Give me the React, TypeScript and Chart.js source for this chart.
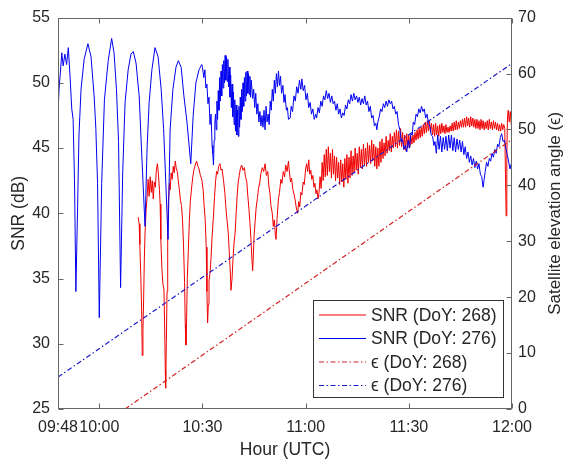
import React, { useEffect, useRef } from 'react';
import { Chart, registerables } from 'chart.js';

Chart.register(...registerables);

// x values are minutes after 00:00 UTC
const xTickValues = [588, 600, 630, 660, 690, 720];
const xTickLabels = ['09:48', '10:00', '10:30', '11:00', '11:30', '12:00'];
const snrTicks = [25, 30, 35, 40, 45, 50, 55];
const elevTicks = [0, 10, 20, 30, 40, 50, 60, 70];

const legendLabels = ['SNR (DoY: 268)', 'SNR (DoY: 276)', 'ϵ (DoY: 268)', 'ϵ (DoY: 276)'];

// Elevation angle (deg) vs time
const elev268: [number, number][] = [[607.5, 0], [720, 48.2]];
const elev276: [number, number][] = [[588, 5.7], [720, 61.8]];

// SNR (dB), DoY 276 (blue)
const snr276: [number, number][] = [
  [588.0, 47.6], [588.3, 49.5], [588.6, 50.5], [589.1, 52.3], [589.5, 51.3], [590.0, 52.2], [590.5, 51.4],
  [591.0, 52.7], [591.5, 50.5], [592.0, 48.0], [592.4, 47.2], [592.8, 42.5], [593.2, 34.0], [593.7, 40.5],
  [594.1, 46.0], [594.7, 49.5], [595.6, 51.8], [596.7, 53.0], [597.6, 52.0], [598.5, 49.0], [599.0, 46.5],
  [599.5, 42.3], [600.0, 32.0], [600.7, 42.3], [601.5, 48.7], [602.6, 51.7], [603.6, 53.4], [604.3, 52.3],
  [605.0, 49.5], [605.6, 45.5], [606.2, 34.3], [606.8, 43.0], [607.5, 48.5], [608.4, 51.0], [609.2, 52.2],
  [609.9, 52.4], [610.7, 51.5], [611.6, 49.0], [612.1, 46.0], [612.7, 42.5], [613.3, 39.0], [613.9, 45.0],
  [614.5, 48.5], [615.3, 51.0], [616.2, 52.7], [617.1, 52.0], [618.0, 49.5], [618.7, 46.5], [619.4, 42.0],
  [620.0, 38.0], [620.6, 46.4], [621.4, 49.5], [622.3, 51.2], [623.0, 51.7], [623.8, 51.2], [624.6, 49.0],
  [625.5, 47.0], [626.6, 43.8], [627.3, 47.5], [628.1, 50.0], [629.0, 51.0], [629.8, 51.4],
  [630.0, 51.2], [630.4, 50.4], [630.7, 51.0], [631.0, 49.6], [631.3, 49.9], [631.6, 48.4], [631.9, 48.9],
  [632.2, 46.8], [632.5, 47.6], [632.8, 45.2], [633.0, 44.6], [633.2, 43.7], [633.4, 45.6], [633.6, 46.9],
  [633.8, 47.6], [634.0, 46.4], [634.2, 48.6], [634.4, 47.2], [634.6, 49.4], [634.8, 47.9], [635.0, 50.4],
  [635.2, 48.6], [635.4, 50.9], [635.6, 49.0], [635.8, 51.4], [636.0, 49.6], [636.2, 51.7], [636.4, 50.0],
  [636.6, 52.1], [636.8, 50.2], [637.0, 52.0], [637.2, 50.1], [637.4, 51.8], [637.6, 49.7], [637.8, 51.2],
  [638.0, 48.9], [638.2, 50.6], [638.4, 48.1], [638.6, 49.9], [638.8, 47.4], [639.0, 49.3], [639.2, 46.8],
  [639.4, 48.7], [639.6, 46.3], [639.8, 48.3], [640.0, 46.0], [640.2, 47.9], [640.4, 45.9], [640.6, 48.2],
  [640.8, 46.6], [641.0, 48.9], [641.2, 47.2], [641.4, 49.5], [641.6, 47.8], [641.8, 50.0], [642.0, 48.2],
  [642.2, 50.4], [642.4, 48.6], [642.6, 50.8], [642.8, 49.0], [643.0, 50.9], [643.2, 49.2], [643.4, 50.7],
  [643.6, 49.1], [643.8, 50.5], [644.0, 48.9], [644.2, 50.2], [644.6, 48.8], [644.9, 49.5], [645.2, 48.1],
  [645.5, 49.2], [645.8, 47.6], [646.1, 48.4], [646.4, 47.0], [646.7, 47.8], [647.0, 46.7], [647.3, 47.5],
  [647.6, 46.6], [647.9, 47.9], [648.2, 46.4], [648.5, 48.2], [648.8, 47.0], [649.1, 47.6], [649.4, 46.8],
  [649.7, 48.6], [650.0, 47.9], [650.3, 49.5], [650.6, 48.6], [650.9, 50.2], [651.2, 49.2], [651.5, 50.7],
  [651.8, 49.7], [652.1, 50.9], [652.4, 49.8], [652.7, 50.5], [653.0, 49.2], [653.4, 49.8], [653.7, 48.5],
  [654.0, 49.1], [654.4, 47.9], [654.7, 48.1], [655.0, 47.2], [655.5, 47.3], [655.8, 48.2], [656.2, 47.8],
  [656.6, 49.0], [657.0, 48.6], [657.4, 49.7], [657.8, 49.2], [658.2, 50.2], [658.6, 49.5], [658.9, 50.3],
  [659.3, 49.4], [659.7, 49.8], [660.1, 48.7], [660.5, 49.2], [660.9, 48.1], [661.3, 48.5], [661.7, 47.6],
  [662.1, 48.0], [662.5, 47.2], [662.9, 47.6], [663.2, 47.3], [663.6, 48.1], [664.0, 47.7], [664.4, 48.6],
  [664.8, 48.2], [665.2, 49.0], [665.6, 48.7], [666.0, 49.4], [666.4, 48.8], [666.8, 49.2], [667.2, 48.5],
  [667.6, 49.0], [668.0, 48.4], [668.4, 48.6], [668.8, 47.9], [669.2, 48.4], [669.6, 47.6], [670.0, 48.0],
  [670.4, 47.3], [670.8, 47.7], [671.2, 47.5], [671.6, 48.3], [672.0, 48.0], [672.4, 48.7], [672.8, 48.4],
  [673.2, 49.1], [673.6, 48.6], [674.0, 49.2], [674.4, 48.7], [674.8, 49.0], [675.2, 48.5], [675.6, 48.9],
  [676.0, 48.3], [676.4, 48.8], [676.8, 48.4], [677.2, 49.0], [677.6, 48.3], [678.0, 48.6], [678.4, 47.8],
  [678.8, 48.2], [679.2, 47.3], [679.6, 47.5], [680.0, 46.7], [680.4, 46.9], [680.7, 46.4], [681.0, 47.0],
  [681.4, 47.4], [681.8, 48.0], [682.2, 47.8], [682.6, 48.4], [683.0, 48.1], [683.4, 48.6], [683.8, 48.2],
  [684.2, 48.7], [684.6, 48.4], [685.0, 48.6], [685.4, 48.0], [685.8, 48.2], [686.2, 47.6], [686.6, 47.8],
  [687.0, 46.8], [687.4, 46.4], [687.8, 45.5], [688.2, 45.6], [688.6, 44.9], [689.0, 45.2], [689.4, 44.7],
  [689.8, 45.6], [690.2, 45.0], [690.6, 46.1], [691.0, 46.0], [691.3, 47.0], [691.7, 46.8], [692.1, 47.6],
  [692.5, 47.4], [692.9, 48.0], [693.3, 47.7], [693.7, 48.2], [694.1, 47.8], [694.5, 48.0], [694.9, 47.3],
  [695.3, 47.6], [695.7, 46.9], [696.1, 46.7], [696.5, 46.0], [696.9, 45.9], [697.3, 45.2], [697.6, 45.5],
  [698.0, 44.6], [698.4, 46.0], [698.8, 44.9], [699.2, 45.9], [699.6, 44.7], [700.0, 45.8], [700.4, 44.9],
  [700.8, 45.9], [701.2, 44.8], [701.6, 46.0], [702.0, 45.0], [702.4, 46.0], [702.8, 44.8], [703.2, 45.8],
  [703.6, 44.7], [704.0, 45.7], [704.4, 44.9], [704.8, 45.6], [705.2, 44.7], [705.6, 45.5], [706.0, 44.5],
  [706.4, 45.1], [706.8, 44.2], [707.2, 44.7], [707.6, 43.9], [708.0, 44.4], [708.4, 43.7], [708.8, 44.2],
  [709.2, 43.5], [709.6, 44.0], [710.0, 43.4], [710.4, 43.8], [710.8, 43.0], [711.2, 42.8], [711.6, 42.0],
  [711.9, 42.6], [712.2, 43.2], [712.6, 43.9], [713.0, 43.6], [713.4, 44.2], [713.8, 44.0], [714.2, 44.6],
  [714.6, 44.3], [715.0, 44.9], [715.4, 44.6], [715.8, 45.3], [716.2, 45.1], [716.6, 45.8], [717.0, 46.1],
  [717.4, 45.5], [717.8, 45.6], [718.2, 45.0], [718.6, 44.5], [719.0, 44.0], [719.4, 43.4], [719.8, 43.8],
  [720.0, 43.2],
];

// SNR (dB), DoY 268 (red)
const snr268: [number, number][] = [
  [611.3, 39.7], [611.6, 39.2], [611.8, 37.6], [612.1, 35.0], [612.3, 32.8], [612.5, 29.1], [612.7, 31.0],
  [612.9, 33.5], [613.1, 36.5], [613.3, 38.4], [613.6, 40.2], [613.9, 41.2], [614.2, 42.6], [614.5, 41.3],
  [614.8, 42.8], [615.1, 41.6], [615.4, 42.5], [615.7, 41.1], [616.0, 42.4], [616.3, 42.0], [616.6, 43.3],
  [616.9, 43.8], [617.2, 43.0], [617.5, 41.8], [617.7, 40.7], [617.9, 38.0], [618.2, 35.8], [618.5, 34.6],
  [618.8, 34.2], [619.0, 31.5], [619.2, 28.0], [619.3, 26.6], [619.5, 30.0], [619.7, 34.0], [619.9, 38.5],
  [620.1, 40.9], [620.4, 42.3], [620.6, 41.8], [620.9, 43.1], [621.2, 42.6], [621.5, 43.6], [621.8, 43.1],
  [622.1, 44.0], [622.4, 43.4], [622.7, 43.2], [623.0, 42.4], [623.3, 41.8], [623.6, 41.0], [623.9, 40.6],
  [624.2, 39.5], [624.5, 37.5], [624.8, 34.7], [625.0, 31.5], [625.2, 29.9], [625.4, 32.0], [625.6, 35.0],
  [625.9, 37.2], [626.2, 39.5], [626.5, 41.0], [626.9, 42.1], [627.2, 42.8], [627.5, 43.3], [627.9, 43.7],
  [628.3, 44.0], [628.7, 43.6], [629.0, 43.4], [629.4, 42.9], [629.8, 42.6], [630.2, 41.8], [630.5, 40.5],
  [630.8, 39.5], [631.1, 37.4], [631.3, 34.0], [631.5, 31.6], [631.7, 33.0], [631.9, 34.8], [632.2, 35.4],
  [632.5, 36.6], [632.8, 38.2], [633.2, 39.8], [633.5, 41.2], [633.8, 42.4], [634.1, 43.2], [634.4, 43.0],
  [634.7, 43.6], [635.1, 43.8], [635.4, 43.3], [635.7, 43.4], [636.1, 42.6], [636.5, 41.6], [636.8, 40.5],
  [637.1, 39.6], [637.5, 38.5], [637.8, 37.0], [638.1, 35.5], [638.3, 34.1], [638.6, 35.0], [638.9, 36.6],
  [639.2, 37.8], [639.5, 38.5], [639.8, 40.0], [640.1, 41.4], [640.4, 42.4], [640.7, 42.9], [641.0, 43.4],
  [641.4, 43.7], [641.8, 43.3], [642.2, 43.5], [642.5, 42.8], [642.9, 42.4], [643.2, 41.3], [643.5, 40.4],
  [643.8, 39.3], [644.1, 38.0], [644.4, 36.4], [644.6, 35.6], [644.8, 36.8], [645.0, 38.2], [645.3, 39.3],
  [645.6, 40.4], [646.0, 41.2], [646.3, 41.9], [646.7, 42.4], [647.0, 43.1], [647.4, 43.5], [647.8, 43.2],
  [648.2, 43.8], [648.6, 42.9], [649.0, 43.2], [649.3, 42.1], [649.6, 41.6], [649.9, 40.6], [650.3, 40.0],
  [650.6, 39.0], [650.9, 39.5], [651.2, 38.3], [651.4, 38.0], [651.7, 39.6], [652.1, 41.1], [652.4, 41.6],
  [652.8, 42.6], [653.1, 42.3], [653.5, 43.2], [653.9, 42.8], [654.2, 43.7], [654.6, 43.2], [655.0, 44.0],
  [655.3, 43.1], [655.6, 42.4], [655.9, 42.7], [656.3, 41.8], [656.6, 41.5], [656.9, 41.1], [657.3, 40.4],
  [657.7, 40.0], [658.0, 40.9], [658.3, 40.5], [658.6, 41.6], [658.9, 41.4], [659.3, 42.4], [659.6, 42.2],
  [660.0, 43.4], [660.3, 43.8], [660.6, 43.2], [660.9, 44.1], [661.2, 43.0], [661.5, 43.3], [661.8, 42.6],
  [662.1, 42.9], [662.4, 42.0], [662.7, 42.3], [663.0, 41.5], [663.3, 41.8], [663.6, 41.1], [663.9, 41.6],
  [664.2, 42.8], [664.5, 41.9], [664.8, 43.9], [665.1, 42.5], [665.4, 44.5], [665.7, 42.8], [666.0, 44.9],
  [666.3, 42.9], [666.6, 45.1], [666.9, 43.2], [667.2, 44.6], [667.5, 42.7], [667.8, 44.9], [668.1, 43.0],
  [668.4, 44.4], [668.7, 42.5], [669.0, 44.3], [669.3, 42.7], [669.6, 43.9], [669.9, 42.2], [670.2, 44.1],
  [670.5, 42.4], [670.8, 43.8], [671.1, 42.0], [671.4, 44.2], [671.7, 42.6], [672.0, 44.5], [672.3, 42.3],
  [672.6, 44.3], [672.9, 42.7], [673.2, 44.8], [673.5, 42.9], [673.8, 44.4], [674.1, 43.1], [674.4, 45.0],
  [674.7, 43.3], [675.0, 44.6], [675.3, 43.0], [675.6, 45.1], [675.9, 43.5], [676.2, 44.9], [676.5, 43.4],
  [676.8, 45.3], [677.1, 43.7], [677.4, 45.0], [677.7, 43.6], [678.0, 45.4], [678.3, 43.9], [678.6, 45.2],
  [678.9, 43.8], [679.2, 45.6], [679.5, 44.0], [679.8, 45.3], [680.1, 43.6], [680.4, 45.1], [680.7, 43.4],
  [681.0, 45.0], [681.3, 43.6], [681.6, 45.5], [681.9, 43.9], [682.2, 45.7], [682.5, 44.2], [682.8, 45.4],
  [683.1, 44.4], [683.4, 45.9], [683.7, 44.6], [684.0, 45.6], [684.3, 44.8], [684.6, 46.1], [684.9, 44.7],
  [685.2, 45.9], [685.5, 45.0], [685.8, 46.2], [686.1, 45.1], [686.4, 46.4], [686.7, 45.0], [687.0, 46.3],
  [687.3, 45.2], [687.6, 46.5], [687.9, 45.1], [688.2, 46.2], [688.5, 44.9], [688.8, 46.0], [689.1, 44.8],
  [689.4, 46.1], [689.7, 45.0], [690.0, 46.0], [690.3, 45.1], [690.6, 45.9], [690.9, 45.3], [691.2, 46.0],
  [691.5, 45.4], [691.8, 46.2], [692.1, 45.6], [692.4, 46.4], [692.7, 45.7], [693.0, 46.5], [693.3, 45.8],
  [693.6, 46.6], [693.9, 45.9], [694.2, 46.8], [694.5, 46.1], [694.8, 47.0], [695.1, 46.2], [695.4, 47.1],
  [695.7, 46.3], [696.0, 47.1], [696.3, 46.2], [696.6, 46.9], [696.9, 46.0], [697.2, 46.8], [697.5, 45.9],
  [697.8, 46.9], [698.1, 46.0], [698.4, 46.7], [698.7, 45.9], [699.0, 46.8], [699.3, 46.1], [699.6, 46.9],
  [699.9, 46.2], [700.2, 46.7], [700.5, 46.1], [700.8, 46.8], [701.1, 46.2], [701.4, 46.6], [701.7, 46.2],
  [702.0, 46.7], [702.3, 46.3], [702.6, 46.9], [702.9, 46.3], [703.2, 47.0], [703.5, 46.4], [703.8, 47.1],
  [704.1, 46.4], [704.4, 47.0], [704.7, 46.5], [705.0, 47.1], [705.3, 46.6], [705.6, 47.2], [705.9, 46.6],
  [706.2, 47.3], [706.5, 46.6], [706.8, 47.4], [707.1, 46.7], [707.4, 47.3], [707.7, 46.6], [708.0, 47.4],
  [708.3, 46.7], [708.6, 47.3], [708.9, 46.6], [709.2, 47.2], [709.5, 46.5], [709.8, 47.2], [710.1, 46.5],
  [710.4, 47.1], [710.7, 46.4], [711.0, 47.2], [711.3, 46.5], [711.6, 47.1], [711.9, 46.4], [712.2, 47.0],
  [712.5, 46.5], [712.8, 47.1], [713.1, 46.4], [713.4, 47.2], [713.7, 46.5], [714.0, 47.0], [714.3, 46.4],
  [714.6, 47.1], [714.9, 46.5], [715.2, 47.0], [715.5, 46.4], [715.8, 46.9], [716.1, 46.3], [716.4, 46.8],
  [716.7, 46.3], [717.0, 46.9], [717.3, 46.4], [717.6, 46.8], [717.9, 46.5], [718.1, 43.0], [718.3, 39.8],
  [718.5, 44.5], [718.7, 47.4], [718.9, 47.9], [719.2, 47.0], [719.5, 47.8], [719.8, 46.8], [720.0, 47.4],
];

const RED = '#f00000';
const BLUE = '#0000f0';
const RED_DASH = '#d42020';
const BLUE_DASH = '#1a1acc';
const DASH = [5, 2.5, 1.5, 2.5];
const FONT = "'Liberation Sans', Arial, Helvetica, sans-serif";
const TEXT = '#262626';
const AXIS = '#666666';

const toXY = (arr: [number, number][]) => arr.map(([x, y]) => ({ x, y }));

const framePlugin = {
  id: 'frame',
  afterDraw(chart: any) {
    const { ctx, chartArea: a } = chart;
    const xs = chart.scales.x;
    const ys = chart.scales.y;
    const ys1 = chart.scales.y1;
    const L = Math.round(a.left) + 0.5;
    const R = Math.round(a.right) - 0.5;
    const T = Math.round(a.top) + 0.5;
    const B = Math.round(a.bottom) - 0.5;
    ctx.save();
    ctx.strokeStyle = AXIS;
    ctx.lineWidth = 1;
    ctx.setLineDash([]);
    ctx.strokeRect(L, T, R - L, B - T);
    ctx.beginPath();
    const tl = 5;
    for (const v of xTickValues) {
      const px = Math.round(xs.getPixelForValue(v)) + 0.5;
      ctx.moveTo(px, B); ctx.lineTo(px, B - tl);
      ctx.moveTo(px, T); ctx.lineTo(px, T + tl);
    }
    for (const v of snrTicks) {
      const py = Math.round(ys.getPixelForValue(v)) + 0.5;
      ctx.moveTo(L, py); ctx.lineTo(L + tl, py);
    }
    for (const v of elevTicks) {
      const py = Math.round(ys1.getPixelForValue(v)) + 0.5;
      ctx.moveTo(R, py); ctx.lineTo(R - tl, py);
    }
    ctx.stroke();

    // axis titles
    ctx.fillStyle = TEXT;
    ctx.font = `17.5px ${FONT}`;
    ctx.textAlign = 'center';
    ctx.textBaseline = 'middle';
    const midY = (a.top + a.bottom) / 2;
    ctx.fillText('Hour (UTC)', (a.left + a.right) / 2, 450);
    ctx.save();
    ctx.translate(19, midY);
    ctx.rotate(-Math.PI / 2);
    ctx.fillText('SNR (dB)', 0, 0);
    ctx.restore();
    ctx.save();
    ctx.font = `17px ${FONT}`;
    ctx.translate(555, midY);
    ctx.rotate(-Math.PI / 2);
    ctx.fillText('Satellite elevation angle (ϵ)', 0, 0);
    ctx.restore();

    // legend
    const bx = 313.5, by = 300.5, bw = 190, bh = 97;
    ctx.fillStyle = '#ffffff';
    ctx.fillRect(bx, by, bw, bh);
    ctx.strokeStyle = '#333333';
    ctx.strokeRect(bx, by, bw, bh);
    const colors = [RED, BLUE, RED_DASH, BLUE_DASH];
    const rowY = [315, 338.5, 362, 385.5];
    ctx.textAlign = 'left';
    ctx.font = `17.5px ${FONT}`;
    for (let i = 0; i < 4; i++) {
      ctx.beginPath();
      ctx.strokeStyle = colors[i];
      ctx.lineWidth = 1;
      ctx.setLineDash(i >= 2 ? DASH : []);
      ctx.moveTo(319, rowY[i]);
      ctx.lineTo(366, rowY[i]);
      ctx.stroke();
      ctx.setLineDash([]);
      ctx.fillStyle = TEXT;
      ctx.fillText(legendLabels[i], 371, rowY[i] + 1);
    }
    ctx.restore();
  },
};

export default function App() {
  const canvasRef = useRef<HTMLCanvasElement | null>(null);

  useEffect(() => {
    if (!canvasRef.current) return;
    const chart = new Chart(canvasRef.current, {
      type: 'line',
      data: {
        datasets: [
          {
            label: legendLabels[0], data: toXY(snr268), borderColor: RED, borderWidth: 1,
            pointRadius: 0, tension: 0, yAxisID: 'y', order: 4,
          },
          {
            label: legendLabels[1], data: toXY(snr276), borderColor: BLUE, borderWidth: 1,
            pointRadius: 0, tension: 0, yAxisID: 'y', order: 3,
          },
          {
            label: legendLabels[2], data: toXY(elev268), borderColor: RED_DASH, borderWidth: 1.2,
            borderDash: DASH, pointRadius: 0, tension: 0, yAxisID: 'y1', order: 2,
          },
          {
            label: legendLabels[3], data: toXY(elev276), borderColor: BLUE_DASH, borderWidth: 1.2,
            borderDash: DASH, pointRadius: 0, tension: 0, yAxisID: 'y1', order: 1,
          },
        ],
      },
      options: {
        animation: false,
        responsive: false,
        devicePixelRatio: 1,
        layout: { padding: { top: 15, left: 0, right: 0, bottom: 0 } },
        plugins: { legend: { display: false }, tooltip: { enabled: false } },
        scales: {
          x: {
            type: 'linear',
            min: 588,
            max: 720,
            grid: { display: false, drawTicks: false },
            border: { display: false },
            afterBuildTicks: (scale: any) => {
              scale.ticks = xTickValues.map((v) => ({ value: v }));
            },
            afterFit: (scale: any) => { scale.height = 57; },
            ticks: {
              autoSkip: false,
              maxRotation: 0,
              padding: 9,
              color: TEXT,
              font: { family: FONT, size: 16 },
              callback: (v: any) => {
                const i = xTickValues.indexOf(Number(v));
                return i >= 0 ? xTickLabels[i] : '';
              },
            },
          },
          y: {
            type: 'linear',
            position: 'left',
            min: 25,
            max: 55,
            grid: { display: false, drawTicks: false },
            border: { display: false },
            afterBuildTicks: (scale: any) => {
              scale.ticks = snrTicks.map((v) => ({ value: v }));
            },
            afterFit: (scale: any) => { scale.width = 58; },
            ticks: { padding: 8, color: TEXT, font: { family: FONT, size: 16 } },
          },
          y1: {
            type: 'linear',
            position: 'right',
            min: 0,
            max: 70,
            grid: { display: false, drawTicks: false },
            border: { display: false },
            afterBuildTicks: (scale: any) => {
              scale.ticks = elevTicks.map((v) => ({ value: v }));
            },
            afterFit: (scale: any) => { scale.width = 53; },
            ticks: { padding: 6, color: TEXT, font: { family: FONT, size: 16 } },
          },
        },
      },
      plugins: [framePlugin],
    } as any);
    return () => chart.destroy();
  }, []);

  return (
    <div style={{ position: 'absolute', left: 0, top: 0, width: 565, height: 466, background: '#fff' }}>
      <canvas ref={canvasRef} width={565} height={466} />
    </div>
  );
}
